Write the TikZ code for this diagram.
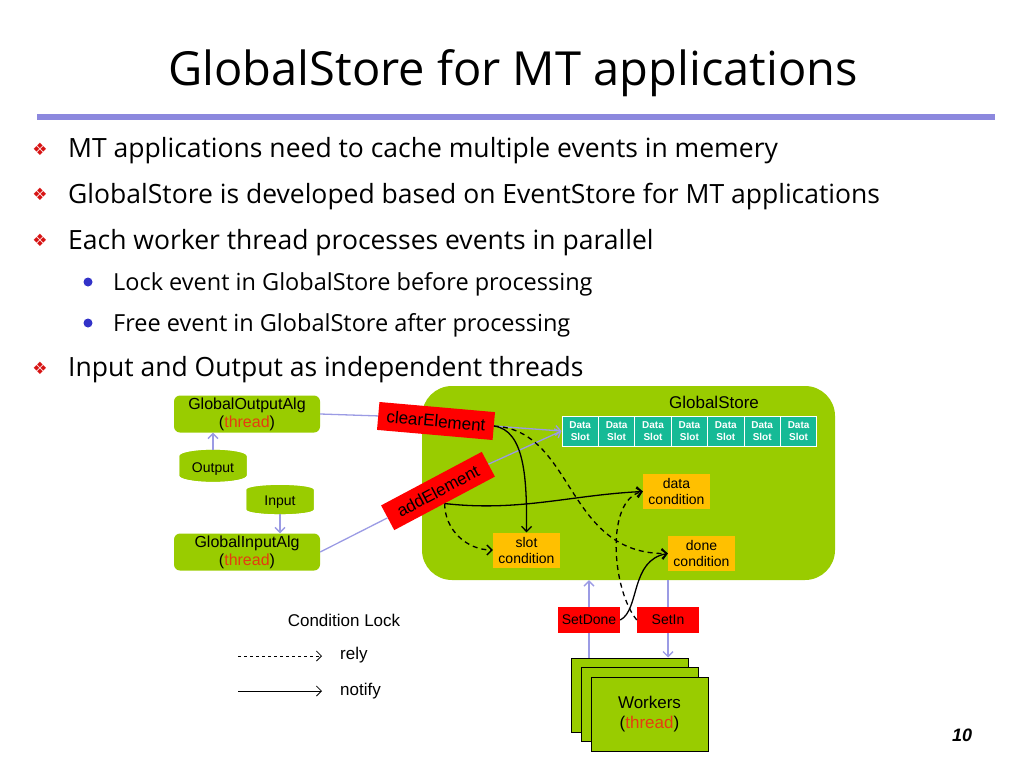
\documentclass[tikz,border=0pt]{standalone}
\usepackage{fontspec}
\setmainfont{Open Sans}
\newfontfamily\arialfont{Liberation Sans}
\newfontfamily\dingfont{DejaVu Sans}
\usetikzlibrary{shapes.geometric,arrows.meta}
\definecolor{gsgreen}{RGB}{153,204,0}
\definecolor{condorange}{RGB}{255,192,0}
\definecolor{lockred}{RGB}{255,0,0}
\definecolor{slotteal}{RGB}{22,186,150}
\definecolor{lavline}{RGB}{155,155,228}
\definecolor{barblue}{RGB}{140,136,222}
\definecolor{threadred}{RGB}{230,60,16}
\definecolor{bulletred}{RGB}{215,20,20}
\definecolor{bulletblue}{RGB}{50,50,200}

\begin{document}
\begin{tikzpicture}[x=1pt,y=1pt,>={Straight Barb[length=5pt,width=10pt]}]
\tikzstyle{every node}+=[inner sep=0pt]
\tikzstyle{alg}=[fill=gsgreen, rounded corners=6pt, minimum width=146pt, minimum height=37pt, align=center, font=\arialfont\fontsize{16}{18}\selectfont]
\tikzstyle{db}=[cylinder, shape border rotate=90, aspect=0.3, fill=gsgreen, cylinder uses custom fill, cylinder body fill=gsgreen, cylinder end fill=gsgreen!70!white, minimum width=67pt, minimum height=29pt, font=\arialfont\fontsize{14}{16}\selectfont]
\tikzstyle{cond}=[fill=condorange, minimum width=67pt, minimum height=35pt, align=center, font=\arialfont\fontsize{14}{16}\selectfont]
\tikzstyle{lock}=[fill=lockred, minimum height=28pt, font=\arialfont\fontsize{17}{19}\selectfont]
\tikzstyle{setbox}=[fill=lockred, minimum width=62pt, minimum height=26pt, font=\arialfont\fontsize{14}{16}\selectfont]
\tikzstyle{slot}=[fill=slotteal, draw=white, line width=1pt, minimum width=36.4pt, minimum height=30pt, align=center, text=white, font=\arialfont\bfseries\fontsize{10}{12}\selectfont]
\tikzstyle{worker}=[draw=black, line width=1pt, fill=gsgreen, minimum width=117pt, minimum height=74pt, align=center, font=\arialfont\fontsize{17}{20}\selectfont]
\tikzstyle{label}=[font=\arialfont\fontsize{17}{19}\selectfont]
\tikzstyle{lav}=[draw=lavline, line width=1.3pt]
\tikzstyle{notify}=[draw=black, line width=1.3pt, ->]
\tikzstyle{rely}=[draw=black, line width=1.3pt, dash pattern=on 5pt off 4pt, ->]
\useasboundingbox (0,0) rectangle (1024,-768);
\node [anchor=base, font=\fontsize{47}{56}\selectfont] (title) at (513,-85) {GlobalStore for MT applications};
\fill [barblue] (37,-114) rectangle (995,-120);
\node [anchor=base west, font=\fontsize{26.5}{30}\selectfont] (item1) at (68,-157) {MT applications need to cache multiple events in memery};
\node [anchor=base west, font=\fontsize{26.5}{30}\selectfont] (item2) at (68,-203) {GlobalStore is developed based on EventStore for MT applications};
\node [anchor=base west, font=\fontsize{26.5}{30}\selectfont] (item3) at (68,-249) {Each worker thread processes events in parallel};
\node [anchor=base west, font=\fontsize{23.5}{27}\selectfont] (sub1) at (113,-290) {Lock event in GlobalStore before processing};
\node [anchor=base west, font=\fontsize{23.5}{27}\selectfont] (sub2) at (113,-331) {Free event in GlobalStore after processing};
\node [anchor=base west, font=\fontsize{26.5}{30}\selectfont] (item4) at (68,-376) {Input and Output as independent threads};
\foreach \y in {149,194,240,368}
  \node [text=bulletred, font=\dingfont\fontsize{17}{17}\selectfont] at (40,-\y) {❖};
\fill [bulletblue] (88,-282) circle (4.5);
\fill [bulletblue] (88,-323) circle (4.5);
\node [fill=gsgreen, rounded corners=30pt, minimum width=413pt, minimum height=194pt] (store) at (628.5,-483) {};
\node [label] (storename) at (714,-402) {GlobalStore};
\foreach \i in {1,...,7}
  \node [slot] (slot\i) at ({543.8+36.4*\i},-431) {Data\\Slot};
\node [cond] (datacond) at (676.5,-491.5) {data\\condition};
\node [cond] (slotcond) at (526.5,-550) {slot\\condition};
\node [cond] (donecond) at (701.5,-553.5) {done\\condition};
\node [lock, rotate=-5, minimum width=116pt] (clear) at (436,-421) {clearElement};
\node [lock, rotate=28, minimum width=114pt] (add) at (438,-491) {addElement};
\node [alg] (outalg) at (247,-414) {GlobalOutputAlg\\(\textcolor{threadred}{thread})};
\node [alg] (inalg) at (247,-552) {GlobalInputAlg\\(\textcolor{threadred}{thread})};
\node [db] (output) at (213,-469) {Output};
\node [db] (input) at (280,-502) {Input};
\node [setbox] (setdone) at (589,-620) {SetDone};
\node [setbox] (setin) at (668,-620) {SetIn};
\node [worker] (worker1) at (629.5,-695) {};
\node [worker] (worker2) at (639.5,-704.5) {};
\node [worker] (worker3) at (649.5,-714.5) {Workers\\(\textcolor{threadred}{thread})};
\node [label] (locktitle) at (344,-620) {Condition Lock};
\coordinate (relyfrom) at (238,-656);
\coordinate (relyto) at (322,-656);
\coordinate (notifyfrom) at (238,-691);
\coordinate (notifyto) at (322,-691);
\node [label, anchor=west] (relytext) at (340,-655) {rely};
\node [label, anchor=west] (notifytext) at (340,-691) {notify};
\node [font=\arialfont\bfseries\itshape\fontsize{18}{20}\selectfont] (pagenum) at (962,-735) {10};
\draw [black, dashed, line width=0.8pt, ->] (relyfrom) -- (relyto);
\draw [black, line width=0.8pt, ->] (notifyfrom) -- (notifyto);
\draw [lav] (outalg.east) -- (clear.west);
\draw [lav] (inalg.east) -- (add.west);
\draw [lav, ->] (output.north) -- (output.north |- outalg.south);
\draw [lav, ->] (input.south) -- (input.south |- inalg.north);
\draw [lav, ->] (clear.east) -- (slot1.west);
\draw [lav, ->] (add.east) -- (slot1.west);
\draw [lav] (worker1.north -| setdone) -- (setdone.south);
\draw [lav, ->] (setdone.north) -- (setdone.north |- store.south);
\draw [lav] (setin.north |- store.south) -- (setin.north);
\draw [lav, ->] (setin.south) -- (setin.south |- worker1.north);
\draw [notify] (clear.east) .. controls (525,-430) and (527,-480) .. (slotcond.north);
\draw [rely] (clear.east) .. controls (575,-430) and (565,-555) .. (donecond.west);
\draw [notify] (add.south) .. controls (520,-512) and (570,-495) .. (datacond.west);
\draw [rely] (add.south) to[out=-90,in=180] (slotcond.west);
\draw [rely] (setin.west) .. controls (612,-590) and (605,-500) .. (datacond.west);
\draw [notify] (setdone.east) .. controls (640,-610) and (630,-560) .. (donecond.west);
\end{tikzpicture}
\end{document}
